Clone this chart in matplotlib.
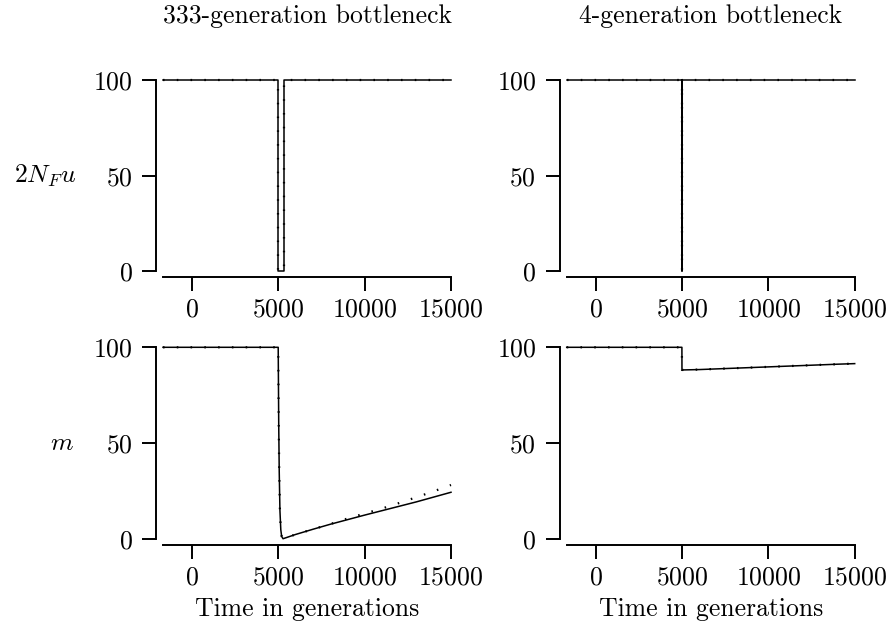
import matplotlib
matplotlib.use("Agg")
import matplotlib.pyplot as plt

plt.rcParams['font.family'] = ['cmr10', 'DejaVu Serif']
plt.rcParams['mathtext.fontset'] = 'cm'
plt.rcParams['axes.formatter.use_mathtext'] = True
plt.rcParams['font.size'] = 18.5

# --- data ---
titles = ['333-generation bottleneck', '4-generation bottleneck']
xticks = [0, 5000, 10000, 15000]
yticks = [0, 50, 100]

# 2 N_F u (population size times mutation rate)
t_nu_333 = [-1667, 5000, 5000, 5333, 5333, 15000]
nu_333 = [100, 100, 0, 0, 100, 100]
t_nu_4 = [-1667, 5000, 5000, 5004, 5004, 15000]
nu_4 = [100, 100, 0, 0, 100, 100]

# m, 333-generation bottleneck (solid = theory, dotted = simulation)
t_m_333 = [-1667, 5000, 5030, 5060, 5100, 5150, 5200, 5280, 6000, 7000, 8000,
           9000, 10000, 11000, 12000, 13000, 14000, 15000]
m_333 = [100, 100, 60, 35, 15, 5, 1.5, 0.3, 2.5, 5.2, 7.8,
         10.2, 12.6, 14.9, 17.2, 19.5, 22.0, 24.5]
t_m_333_sim = [-1667, 5000, 5030, 5060, 5100, 5150, 5200, 5280, 6000, 7000, 8000,
               9000, 10000, 11000, 12000, 13000, 14000, 15000]
m_333_sim = [100, 100, 60, 35, 15, 5, 1.5, 0.3, 2.5, 5.2, 7.9,
             10.8, 13.4, 16.0, 18.9, 21.9, 25.0, 28.3]

# m, 4-generation bottleneck
t_m_4 = [-1667, 5000, 5004, 6000, 8000, 10000, 12000, 14000, 15000]
m_4 = [100, 100, 88.2, 88.4, 89.1, 89.8, 90.5, 91.2, 91.5]

fig = plt.figure(figsize=(8.88, 6.26), dpi=100)

W, H = 888, 626
def pos(x0, x1, y0, y1):
    return [x0 / W, 1 - y1 / H, (x1 - x0) / W, (y1 - y0) / H]

axes = [[fig.add_axes(pos(163, 451, 80, 271.3)), fig.add_axes(pos(566.7, 854.7, 80, 271.3))],
        [fig.add_axes(pos(163, 451, 347.3, 539.3)), fig.add_axes(pos(566.7, 854.7, 347.3, 539.3))]]

series = [
    [(t_nu_333, nu_333, t_nu_333, nu_333), (t_nu_4, nu_4, t_nu_4, nu_4)],
    [(t_m_333, m_333, t_m_333_sim, m_333_sim), (t_m_4, m_4, t_m_4, m_4)],
]

for r in range(2):
    for c in range(2):
        ax = axes[r][c]
        tx, ty, sx, sy = series[r][c]
        ax.plot(sx, sy, color='black', lw=1.6, linestyle=(0, (0.7, 5.5)),
                clip_on=False)
        ax.plot(tx, ty, color='black', lw=1.1, clip_on=False)
        ax.set_xlim(-1667, 15000)
        ax.set_ylim(0, 100)
        ax.set_xticks(xticks)
        ax.set_yticks(yticks)
        for s in ['top', 'right']:
            ax.spines[s].set_visible(False)
        ax.spines['left'].set_position(('outward', 5))
        ax.spines['bottom'].set_position(('outward', 4))
        ax.spines['left'].set_linewidth(1.4)
        ax.spines['bottom'].set_linewidth(1.4)
        ax.tick_params(axis='both', direction='out', length=10, width=1.4)
        ax.tick_params(axis='y', pad=7)
        ax.tick_params(axis='x', pad=5)
        ax.patch.set_visible(False)

for c in range(2):
    ax = axes[0][c]
    x0 = ax.get_position().x0
    x1 = ax.get_position().x1
    fig.text((x0 + x1) / 2, 1 - 16 / H, titles[c], ha='center', va='center')
    fig.text((x0 + x1) / 2, 1 - 616 / H, 'Time in generations',
             ha='center', va='baseline')

fig.text(45 / W, 1 - 176 / H, r'$2N_Fu$', ha='center', va='center')
fig.text(62 / W, 1 - 443 / H, r'$m$', ha='center', va='center')

fig.savefig('out.png', dpi=100)
